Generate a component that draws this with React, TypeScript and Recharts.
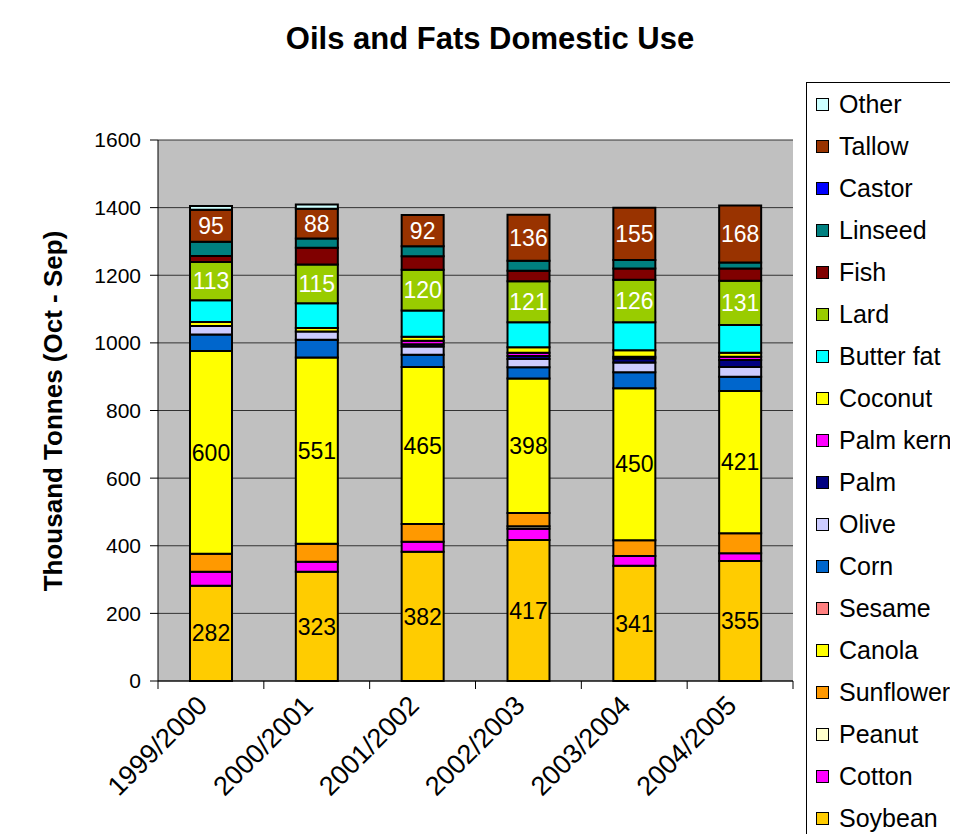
import { BarChart, Bar, XAxis, YAxis, CartesianGrid, LabelList } from "recharts";

const years = ["1999/2000", "2000/2001", "2001/2002", "2002/2003", "2003/2004", "2004/2005"];

// stacked bottom to top
const soybean = [282, 323, 382, 417, 341, 355];
const cotton = [41, 30, 30, 33, 29, 23];
const peanut = [0, 0, 0, 8, 0, 0];
const sunflower = [53, 53, 52, 39, 46, 59];
const canola = [600, 551, 465, 398, 450, 421];
const sesame = [0, 0, 0, 0, 0, 0];
const corn = [49, 52, 36, 33, 47, 42];
const olive = [25, 25, 24, 24, 29, 29];
const palm = [0, 0, 7, 9, 12, 20];
const palmKern = [0, 0, 10, 10, 5, 10];
const coconut = [12, 10, 12, 16, 19, 12];
const butterFat = [64, 73, 78, 74, 83, 82];
const lard = [113, 115, 120, 121, 126, 131];
const fish = [18, 49, 40, 31, 33, 36];
const linseed = [42, 28, 30, 30, 25, 18];
const castor = [0, 0, 0, 0, 0, 0];
const tallow = [95, 88, 92, 136, 155, 168];
const other = [11, 12, 0, 0, 0, 0];

const yTicks = [0, 200, 400, 600, 800, 1000, 1200, 1400, 1600];

const series = [
  { key: "Soybean", values: soybean, color: "#FFCC00", label: "#000" },
  { key: "Cotton", values: cotton, color: "#FF00FF" },
  { key: "Peanut", values: peanut, color: "#FFFFCC" },
  { key: "Sunflower", values: sunflower, color: "#FF9900" },
  { key: "Canola", values: canola, color: "#FFFF00", label: "#000" },
  { key: "Sesame", values: sesame, color: "#FF8080" },
  { key: "Corn", values: corn, color: "#0066CC" },
  { key: "Olive", values: olive, color: "#CCCCFF" },
  { key: "Palm", values: palm, color: "#000080" },
  { key: "Palm kern", values: palmKern, color: "#FF00FF" },
  { key: "Coconut", values: coconut, color: "#FFFF00" },
  { key: "Butter fat", values: butterFat, color: "#00FFFF" },
  { key: "Lard", values: lard, color: "#99CC00", label: "#fff" },
  { key: "Fish", values: fish, color: "#800000" },
  { key: "Linseed", values: linseed, color: "#008080" },
  { key: "Castor", values: castor, color: "#0000FF" },
  { key: "Tallow", values: tallow, color: "#993300", label: "#fff" },
  { key: "Other", values: other, color: "#CCFFFF" },
];

const data = years.map((year, i) => {
  const row: any = { year };
  series.forEach((s) => (row[s.key] = s.values[i]));
  return row;
});

const FONT = "'Liberation Sans', Arial, sans-serif";
const PLOT_LEFT = 158;
const PLOT_RIGHT = 793;
const BAND = (PLOT_RIGHT - PLOT_LEFT) / years.length;

function XTick(props: any) {
  const { x, y, payload, index, visibleTicksCount } = props;
  const left = x - BAND / 2;
  const ax = x - 2;
  const ay = y + 26;
  return (
    <g>
      <line x1={left} y1={y} x2={left} y2={y + 8} stroke="#000" />
      {index === visibleTicksCount - 1 && (
        <line x1={x + BAND / 2} y1={y} x2={x + BAND / 2} y2={y + 8} stroke="#000" />
      )}
      <text
        x={ax}
        y={ay}
        transform={`rotate(-45 ${ax} ${ay})`}
        textAnchor="end"
        fontSize={27}
        fontFamily={FONT}
        fill="#000"
      >
        {payload.value}
      </text>
    </g>
  );
}

export default function App() {
  return (
    <div style={{ position: "relative", width: 958, height: 834, margin: "-8px 0 0 -8px", background: "#fff", overflow: "hidden" }}>
      <div style={{ position: "absolute", left: 6, top: 2, width: 1000, height: 900, borderLeft: "1px solid #000", borderTop: "1px solid #000" }} />
      <div
        style={{
          position: "absolute",
          left: 0,
          width: 980,
          top: 21,
          textAlign: "center",
          fontFamily: FONT,
          fontWeight: "bold",
          fontSize: 31,
          lineHeight: "36px",
        }}
      >
        Oils and Fats Domestic Use
      </div>
      <div
        style={{
          position: "absolute",
          left: 53,
          top: 411,
          transform: "translate(-50%, -50%) rotate(-90deg)",
          whiteSpace: "nowrap",
          fontFamily: FONT,
          fontWeight: "bold",
          fontSize: 26,
        }}
      >
        Thousand Tonnes (Oct - Sep)
      </div>
      <div style={{ position: "absolute", left: 0, top: 0 }}>
        <BarChart
          width={958}
          height={834}
          data={data}
          margin={{ top: 140, right: 958 - PLOT_RIGHT, bottom: 53, left: PLOT_LEFT - 60 }}
          barCategoryGap="20%"
        >
          <CartesianGrid vertical={false} fill="#C0C0C0" stroke="#333" fillOpacity={1} />
          <XAxis
            dataKey="year"
            height={100}
            tick={<XTick />}
            tickLine={false}
            tickSize={0}
            tickMargin={0}
            axisLine={{ stroke: "#000" }}
            interval={0}
          />
          <YAxis
            width={60}
            domain={[0, 1600]}
            ticks={yTicks}
            tickSize={8}
            tickMargin={9}
            tickLine={{ stroke: "#000" }}
            axisLine={{ stroke: "#000" }}
            tick={{ fill: "#000", fontSize: 21, fontFamily: FONT }}
            interval={0}
          />
          {series.map((s) => (
            <Bar
              key={s.key}
              dataKey={s.key}
              stackId="a"
              fill={s.color}
              stroke="#000"
              strokeWidth={2}
              barSize={42}
              isAnimationActive={false}
            >
              {s.label && (
                <LabelList
                  dataKey={s.key}
                  position="center"
                  fill={s.label}
                  fontSize={23}
                  fontFamily={FONT}
                />
              )}
            </Bar>
          ))}
        </BarChart>
      </div>
      <div
        style={{
          position: "absolute",
          left: 806,
          top: 82,
          width: 200,
          height: 800,
          border: "1px solid #000",
          background: "#fff",
          fontFamily: FONT,
          fontSize: 25,
        }}
      >
        {[...series].reverse().map((s, i) => (
          <div
            key={s.key}
            style={{ position: "absolute", left: 9, top: 21 + i * 42 - 15, height: 30, display: "flex", alignItems: "center", whiteSpace: "nowrap" }}
          >
            <span style={{ display: "inline-block", width: 11, height: 11, background: s.color, border: "1px solid #000", marginRight: 10 }} />
            {s.key}
          </div>
        ))}
      </div>
    </div>
  );
}
